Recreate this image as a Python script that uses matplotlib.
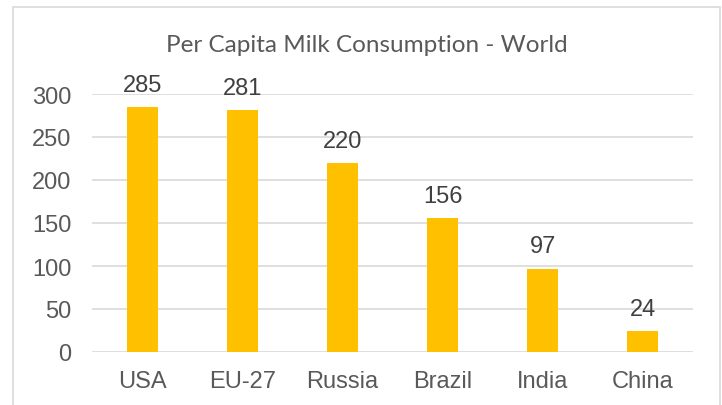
import matplotlib.pyplot as plt
from matplotlib.patches import Rectangle

countries = ['USA', 'EU-27', 'Russia', 'Brazil', 'India', 'China']
consumption = [285, 281, 220, 156, 97, 24]
yticks = [0, 50, 100, 150, 200, 250, 300]

fig = plt.figure(figsize=(7.22, 4.06), dpi=100)
fig.patches.append(Rectangle((13/722, -0.1), 707/722, 1.1 - 8/406, transform=fig.transFigure,
                             fill=False, edgecolor='#D9D9D9', linewidth=1.2))

ax = fig.add_axes([92/722, 1 - 353/406, 601/722, 258/406])
bars = ax.bar(range(len(countries)), consumption, width=0.31, color='#FFC000', zorder=3)
for b, v in zip(bars, consumption):
    ax.annotate(str(v), (b.get_x() + b.get_width()/2, v), xytext=(0, 8), textcoords='offset points',
                ha='center', va='bottom', fontsize=17, color='#404040', family='Liberation Sans')

ax.set_xlim(-0.5, len(countries) - 0.5)
ax.set_ylim(0, 300)
ax.set_yticks(yticks)
ax.set_xticks(range(len(countries)))
ax.set_xticklabels(countries)
ax.yaxis.grid(True, color='#D9D9D9', linewidth=1.2, zorder=0)
for s in ax.spines.values():
    s.set_visible(False)
ax.tick_params(length=0, labelsize=17, labelcolor='#595959')
ax.tick_params(axis='y', pad=15)
ax.tick_params(axis='x', pad=13)
for lbl in ax.get_xticklabels() + ax.get_yticklabels():
    lbl.set_family('Liberation Sans')

fig.text(0.5 + 6/722, 1 - 45/406, 'Per Capita Milk Consumption - World', ha='center', va='center',
         fontsize=17.5, color='#595959', family='Lato')

fig.savefig('out.png', dpi=100)
